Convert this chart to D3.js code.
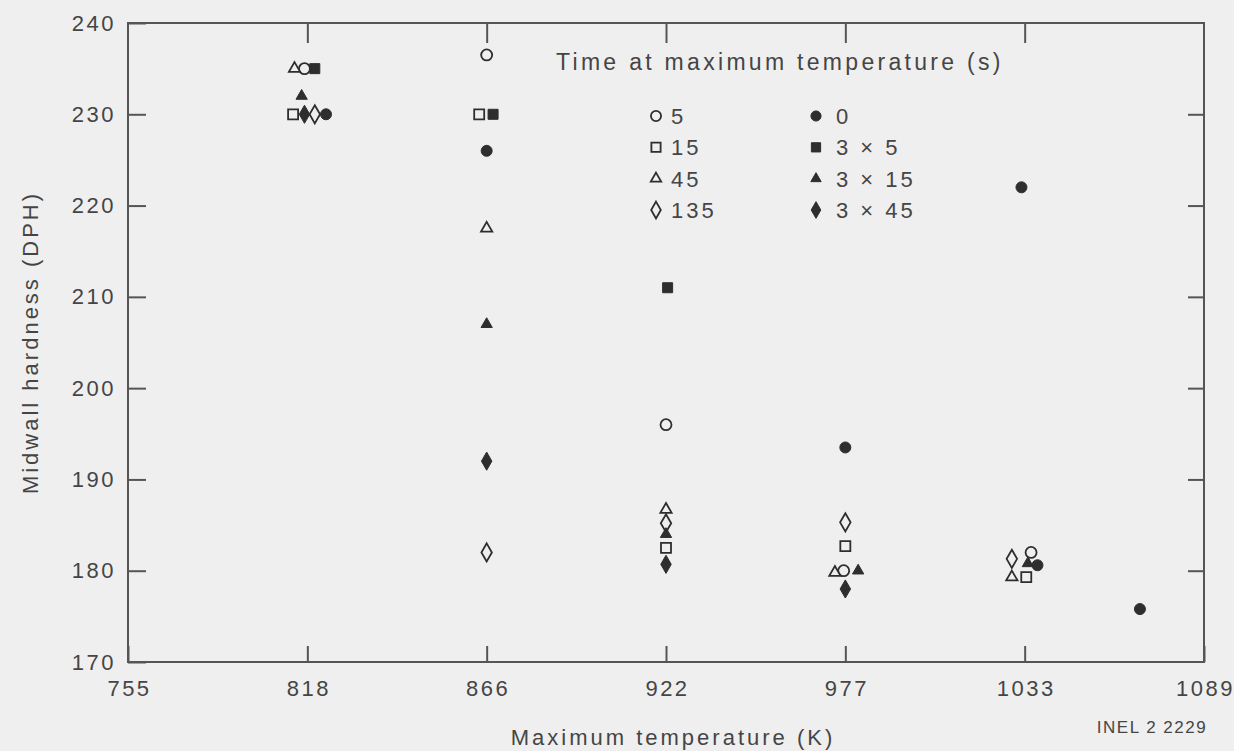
<!DOCTYPE html>
<html>
<head>
<meta charset="utf-8">
<script src="https://cdn.jsdelivr.net/npm/d3@7"></script>
<style>
  html, body { margin: 0; padding: 0; background: #efefef; }
  svg { display: block; }
  text { font-family: "Liberation Sans", Arial, sans-serif; fill: #454545; }
  .axis text { font-size: 22px; letter-spacing: 2.5px; }
  .axis line { stroke: #555; stroke-width: 2; }
  .axis-label { font-size: 22px; letter-spacing: 3px; }
  .legend text { font-size: 22px; letter-spacing: 3px; }
  .legend .title { font-size: 23px; letter-spacing: 3.3px; }
  .credit { font-size: 17px; letter-spacing: 1.5px; }
</style>
</head>
<body>
<div id="chart"></div>
<script>
// tick temperatures (K), evenly spaced on the original figure
const X_TICKS = [755, 818, 866, 922, 977, 1033, 1089];
const Y_TICKS = [170, 180, 190, 200, 210, 220, 230, 240];

// [maximum temperature K, midwall hardness DPH]
const OPEN_5 = [[817, 235], [866, 236.5], [922, 196], [976.5, 180], [1035, 182]];
const OPEN_15 = [[813, 230], [864, 230], [922, 182.5], [977, 182.7], [1033.5, 179.3]];
const OPEN_45 = [[813.5, 235], [866, 217.5], [922, 186.7], [973.8, 179.8], [1029, 179.3]];
const OPEN_135 = [[820, 230], [866, 182], [922, 185.2], [977, 185.3], [1029, 181.3]];
const FILLED_0 = [[823, 230], [866, 226], [977, 193.5], [1032, 222], [1037, 180.6], [1069, 175.8]];
const FILLED_3X5 = [[820, 235], [868, 230], [922.5, 211]];
const FILLED_3X15 = [[816, 232], [866, 207], [922, 184], [981, 180], [1034, 180.8]];
const FILLED_3X45 = [[817, 230], [866, 192], [922, 180.7], [977, 178]];

const SERIES = [
  { label: "5", shape: "circle", filled: false, data: OPEN_5 },
  { label: "15", shape: "square", filled: false, data: OPEN_15 },
  { label: "45", shape: "triangle", filled: false, data: OPEN_45 },
  { label: "135", shape: "diamond", filled: false, data: OPEN_135 },
  { label: "0", shape: "circle", filled: true, data: FILLED_0 },
  { label: "3 \u00d7 5", shape: "square", filled: true, data: FILLED_3X5 },
  { label: "3 \u00d7 15", shape: "triangle", filled: true, data: FILLED_3X15 },
  { label: "3 \u00d7 45", shape: "diamond", filled: true, data: FILLED_3X45 },
];

const width = 1234, height = 751;
const margin = { top: 23, right: 30, bottom: 89, left: 128 };
const bg = "#efefef", ink = "#2e2e2e";

const SHAPES = {
  circle: { type: d3.symbolCircle, size: 95 },
  square: { type: d3.symbolSquare, size: 100 },
  triangle: { type: d3.symbolTriangle, size: 55 },
  diamond: { type: d3.symbolDiamond, size: 95 },
};

const svg = d3.select("#chart").append("svg")
  .attr("width", width)
  .attr("height", height);

const xIndex = d3.scaleLinear().domain([0, X_TICKS.length - 1]).range([margin.left, width - margin.right]);
const x = d3.scaleLinear().domain(X_TICKS).range(X_TICKS.map((d, i) => xIndex(i)));
const y = d3.scaleLinear().domain([170, 240]).range([height - margin.bottom, margin.top]);

// axes, ticks pointing inward on all four sides
svg.append("g")
  .attr("class", "axis")
  .attr("transform", `translate(0,${y(170)})`)
  .call(d3.axisBottom(x).tickValues(X_TICKS).tickFormat(d3.format("d"))
    .tickSizeInner(-16).tickSizeOuter(0).tickPadding(14))
  .call(g => g.select(".domain").remove())
  .call(g => g.selectAll(".tick text").attr("dy", "0.9em").attr("dx", "1px"));

svg.append("g")
  .attr("class", "axis")
  .attr("transform", `translate(0,${y(240)})`)
  .call(d3.axisTop(x).tickValues(X_TICKS.slice(1, -1)).tickSizeInner(-20).tickSizeOuter(0).tickFormat(""))
  .call(g => g.select(".domain").remove());

svg.append("g")
  .attr("class", "axis")
  .attr("transform", `translate(${x(755)},0)`)
  .call(d3.axisLeft(y).tickValues(Y_TICKS).tickSizeInner(-18).tickSizeOuter(0).tickPadding(12))
  .call(g => g.select(".domain").remove());

svg.append("g")
  .attr("class", "axis")
  .attr("transform", `translate(${x(1089)},0)`)
  .call(d3.axisRight(y).tickValues(Y_TICKS.slice(1, -1)).tickSizeInner(-16).tickSizeOuter(0).tickFormat(""))
  .call(g => g.select(".domain").remove());

svg.append("rect")
  .attr("x", x(755))
  .attr("y", y(240))
  .attr("width", x(1089) - x(755))
  .attr("height", y(170) - y(240))
  .attr("fill", "none")
  .attr("stroke", "#555")
  .attr("stroke-width", 2);

function symbolPath(shape, scale = 1) {
  const s = SHAPES[shape];
  return d3.symbol().type(s.type).size(s.size * scale)();
}

function styleMark(sel, d) {
  sel.attr("fill", d.filled ? ink : bg)
    .attr("stroke", ink)
    .attr("stroke-width", d.filled ? 1 : 1.8);
}

// points
SERIES.forEach(s => {
  svg.append("g")
    .selectAll("path")
    .data(s.data)
    .join("path")
    .attr("d", symbolPath(s.shape))
    .attr("transform", d => `translate(${x(d[0])},${y(d[1])})`)
    .call(styleMark, s);
});

// legend
const legend = svg.append("g").attr("class", "legend");
legend.append("text")
  .attr("class", "title")
  .attr("x", 556)
  .attr("y", 70)
  .text("Time at maximum temperature (s)");

const rowY = d3.scalePoint().domain(d3.range(4)).range([116, 210]);
SERIES.forEach((s, i) => {
  const col = s.filled ? { sx: 816, tx: 836 } : { sx: 656, tx: 671 };
  const yy = rowY(i % 4);
  legend.append("path")
    .attr("d", symbolPath(s.shape, 0.85))
    .attr("transform", `translate(${col.sx},${yy})`)
    .call(styleMark, s);
  legend.append("text")
    .attr("x", col.tx)
    .attr("y", yy)
    .attr("dy", "0.36em")
    .text(s.label);
});

// axis titles
svg.append("text")
  .attr("class", "axis-label")
  .attr("text-anchor", "middle")
  .attr("x", 673)
  .attr("y", 745)
  .text("Maximum temperature (K)");

svg.append("text")
  .attr("class", "axis-label")
  .attr("text-anchor", "middle")
  .attr("transform", `translate(38,${y(205)}) rotate(-90)`)
  .text("Midwall hardness (DPH)");

svg.append("text")
  .attr("class", "credit")
  .attr("text-anchor", "middle")
  .attr("x", 1152)
  .attr("y", 733)
  .text("INEL 2 2229");
</script>
</body>
</html>
